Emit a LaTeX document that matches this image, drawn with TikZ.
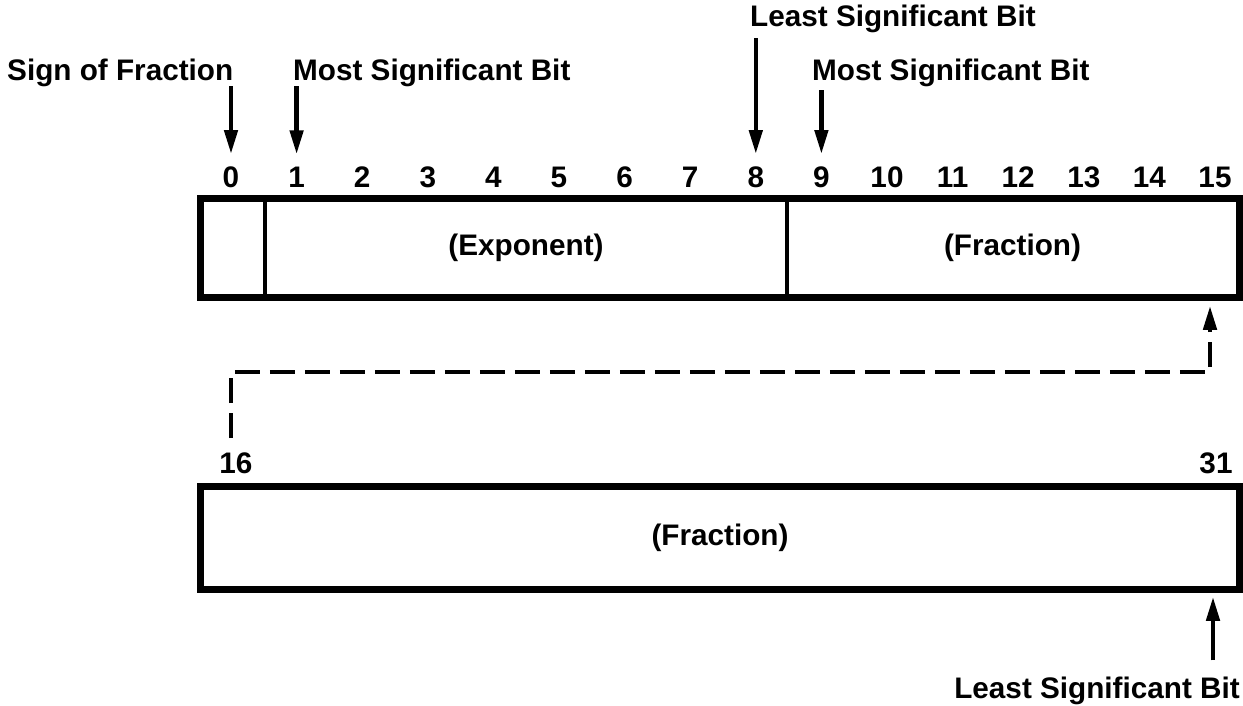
\documentclass[tikz,border=0pt]{standalone}
\usepackage{fontspec}
\setmainfont{Liberation Sans}
\usetikzlibrary{arrows.meta}
\begin{document}
\begin{tikzpicture}[x=1pt,y=-1pt,
  lbl/.style={font=\bfseries\fontsize{29.7}{32}\selectfont, inner sep=0pt},
  bitnum/.style={lbl, anchor=base},
  field/.style={draw, line width=3.5pt, inner sep=0pt, lbl},
  frame/.style={line width=6pt},
  ptr/.style={line width=4.5pt, -{Triangle[length=24pt,width=13pt]}},
  link/.style={ptr, dash pattern=on 25pt off 10pt},
]
\useasboundingbox (0,0) rectangle (1243,705);

% pointer labels above the word
\node[lbl, anchor=base west] (sgn)    at (7,80)   {Sign of Fraction};
\node[lbl, anchor=base west] (msbhi)  at (293,80) {Most Significant Bit};
\node[lbl, anchor=base west] (lsbhi)  at (750,26) {Least Significant Bit};
\node[lbl, anchor=base west] (msblo)  at (812,80) {Most Significant Bit};

% bit numbers of the high word
\foreach \i in {0,...,15}
  \node[bitnum] (b\i) at (231+65.6*\i,187) {\i};

% high word: sign, exponent, fraction
\node[field, minimum width=63pt,  minimum height=96pt] (sign) at (233.5,248) {};
\node[field, minimum width=522pt, minimum height=96pt] (expo) at (526,248) {(Exponent)};
\node[field, minimum width=451pt, minimum height=96pt] (frhi) at (1012.5,248) {(Fraction)};
\draw[frame] (sign.north west) rectangle (frhi.south east);

% low word
\node[bitnum] (b16) at (236,473) {16};
\node[bitnum] (b31) at (1216,473) {31};
\node[field, minimum width=1036pt, minimum height=100pt] (frlo) at (720,538) {(Fraction)};
\draw[frame] (frlo.north west) rectangle (frlo.south east);

\node[lbl, anchor=base east] (lsblo) at (1240,698) {Least Significant Bit};

% pointers
\draw[ptr, shorten <=0pt, shorten >=12pt] (b0.north |- sgn.south) -- (b0.north);
\draw[ptr, shorten <=0pt, shorten >=12pt] (b1.north |- msbhi.south) -- (b1.north);
\draw[ptr, shorten <=6pt, shorten >=12pt] (b8.north |- lsbhi.south) -- (b8.north);
\draw[ptr, shorten <=4pt, shorten >=12pt] (b9.north |- msblo.south) -- (b9.north);

% continuation of the fraction into the low word
\coordinate (linkL) at (231,372);
\coordinate (linkR) at (1210,372);
\draw[link, shorten <=14pt, shorten >=8pt] (linkL |- b16.north) -- (linkL) -- (linkR) -- (frhi.south -| linkR);

\coordinate (lsbx) at (1213,0);
\draw[ptr, shorten <=16pt, shorten >=7pt] (lsblo.north -| lsbx) -- (frlo.south -| lsbx);
\end{tikzpicture}
\end{document}
